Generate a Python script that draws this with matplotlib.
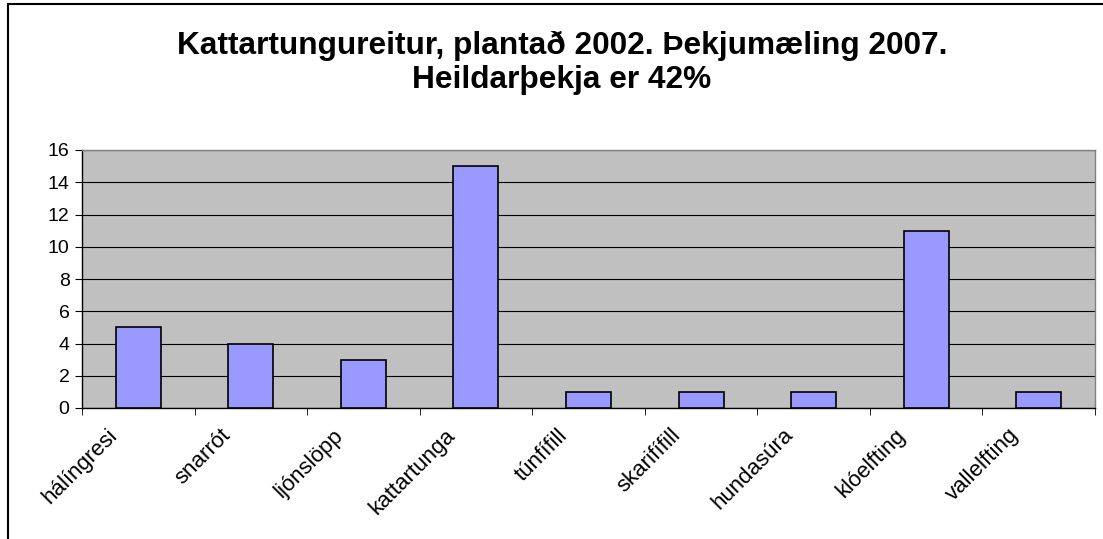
import matplotlib
matplotlib.use("Agg")
import matplotlib.pyplot as plt
from matplotlib.patches import Rectangle
import matplotlib.transforms as mtransforms
import numpy as np

categories = ["hálíngresi", "snarrót", "ljónslöpp", "kattartunga", "túnfífill",
              "skarifífill", "hundasúra", "klóelfting", "vallelfting"]
values = [5, 4, 3, 15, 1, 1, 1, 11, 1]
yticks = [0, 2, 4, 6, 8, 10, 12, 14, 16]
title = "Kattartungureitur, plantað 2002. Þekjumæling 2007.\nHeildarþekja er 42%"

plt.rcParams['font.family'] = ['Liberation Sans', 'DejaVu Sans']

W, H = 1103, 539
fig = plt.figure(figsize=(W/100, H/100), dpi=100)
fig.patch.set_facecolor('white')

# figure frame
fig.patches.append(Rectangle((8/W, -0.01), 1.02, 1 - 4/H + 0.01, transform=fig.transFigure,
                             fill=False, edgecolor='black', linewidth=1.5))

ax = fig.add_axes([82/W, 1 - 408/H, (1095-82)/W, (408-150)/H])
ax.set_facecolor('#C0C0C0')
x = np.arange(len(categories))
ax.bar(x, values, width=0.4, color='#9999FF', edgecolor='black', linewidth=1.2, zorder=3)
ax.set_xlim(-0.5, len(categories) - 0.5)
ax.set_ylim(0, 16)
ax.set_yticks(yticks)
ax.set_yticklabels([str(v) for v in yticks], fontsize=14)
ax.yaxis.grid(True, color='black', linewidth=0.8, zorder=1)
ax.set_axisbelow(True)

ax.set_xticks(x)
ax.set_xticklabels(categories, rotation=45, ha='right', va='top',
                   rotation_mode='anchor', fontsize=16)
ax.tick_params(axis='x', which='major', length=0, pad=12)
ax.set_xticks(np.arange(-0.5, len(categories)), minor=True)
ax.tick_params(axis='x', which='minor', length=5, direction='out', color='black')
ax.tick_params(axis='y', length=5, direction='out', color='black', pad=4)

offset = mtransforms.ScaledTranslation(-31/100, 0, fig.dpi_scale_trans)
for lbl in ax.get_xticklabels():
    lbl.set_transform(lbl.get_transform() + offset)

for s in ['left', 'bottom']:
    ax.spines[s].set_color('black')
    ax.spines[s].set_linewidth(1)
for s in ['top', 'right']:
    ax.spines[s].set_color('#808080')
    ax.spines[s].set_linewidth(1)

fig.text(562/W, 1 - 63/H, title, ha='center', va='center', fontsize=22.8,
         fontweight='bold', linespacing=1.2)

fig.savefig('out.png', dpi=100)
